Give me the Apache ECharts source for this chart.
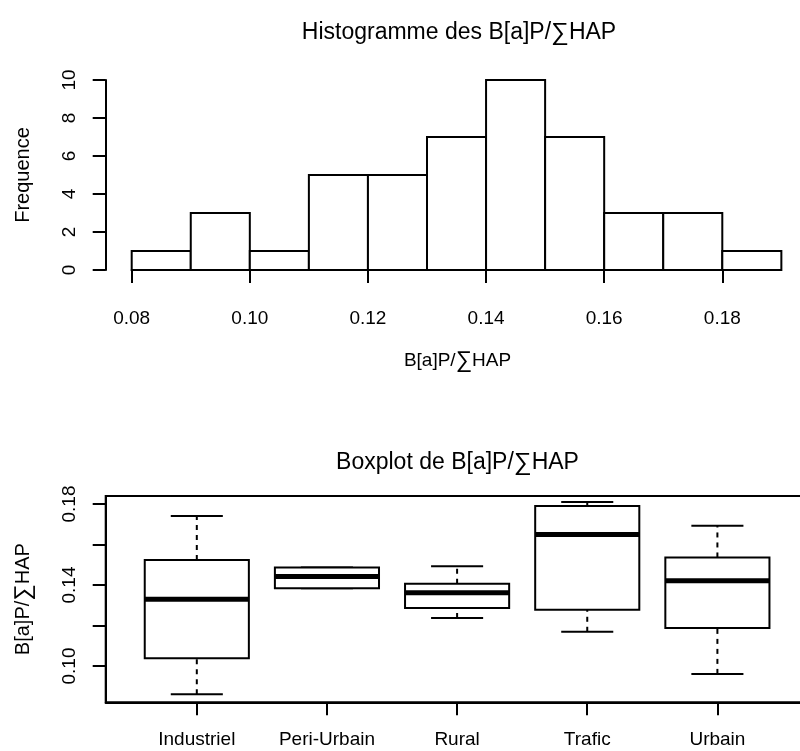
<!DOCTYPE html>
<html><head><meta charset="utf-8">
<script src="https://cdn.jsdelivr.net/npm/echarts@6/dist/echarts.min.js"></script>
<style>html,body{margin:0;padding:0;background:#fff}#c{width:800px;height:751px}</style>
</head><body><div id="c"></div>
<script>
// ---- data ----
const binEdges = [0.08,0.09,0.10,0.11,0.12,0.13,0.14,0.15,0.16,0.17,0.18,0.19];
const binCounts = [1,3,1,5,5,7,10,7,3,3,1];
const categories = ['Industriel','Peri-Urbain','Rural','Trafic','Urbain'];
const whiskerLow  = [0.0861,0.1384,0.1237,0.1169,0.0961];
const q1          = [0.1038,0.1384,0.1286,0.1278,0.1188];
const median      = [0.1330,0.1442,0.1362,0.1649,0.1421];
const q3          = [0.1524,0.1486,0.1406,0.1790,0.1536];
const whiskerHigh = [0.1741,0.1486,0.1493,0.1810,0.1692];
const boxYTicks = [0.10,0.12,0.14,0.16,0.18];
const boxYLabels = [0.10,0.14,0.18];
const catTicks = [1,2,3,4,5];

const FONT = "'Liberation Sans', Arial, Helvetica, sans-serif";
const LW = 2;
const blackLine = {show:true, lineStyle:{color:'#000', width:LW}};
const sigmaRich = {s:{fontSize:25, fontFamily:FONT, color:'#000'}};
const sigmaRichS = {s:{fontSize:23, fontFamily:FONT, color:'#000'}};

const chart = echarts.init(document.getElementById('c'), null, {renderer:'canvas'});
chart.setOption({
  backgroundColor:'#fff',
  animation:false,
  grid:[
    {left:131.7, right:77.7, top:80, bottom:481, outerBoundsMode:'none'},
    {left:105.7, right:-8.5, top:496, bottom:48.7, show:true, borderColor:'#000', borderWidth:LW, backgroundColor:'transparent', outerBoundsMode:'none'}
  ],
  xAxis:[
    {type:'value', gridIndex:0, min:0.08, max:0.18, interval:0.02, offset:8,
     axisLine:blackLine, axisTick:{show:true, length:13, lineStyle:{color:'#000', width:LW}},
     splitLine:{show:false},
     axisLabel:{margin:31, fontSize:19, fontFamily:FONT, color:'#000', formatter:v=>v.toFixed(2)}},
    {type:'value', gridIndex:1, min:0.3, max:5.7,
     axisLine:blackLine, axisTick:{show:true, length:13, customValues:catTicks, lineStyle:{color:'#000', width:LW}},
     splitLine:{show:false},
     axisLabel:{margin:28, fontSize:19, fontFamily:FONT, color:'#000', customValues:catTicks, formatter:v=>categories[Math.round(v)-1]}}
  ],
  yAxis:[
    {type:'value', gridIndex:0, min:0, max:10, interval:2, offset:26,
     name:'Frequence', nameLocation:'middle', nameGap:72,
     nameTextStyle:{fontSize:20, fontFamily:FONT, color:'#000'},
     axisLine:blackLine, axisTick:{show:true, length:13, lineStyle:{color:'#000', width:LW}},
     splitLine:{show:false},
     axisLabel:{rotate:90, margin:26, fontSize:19, fontFamily:FONT, color:'#000'}},
    {type:'value', gridIndex:1, min:0.08207, max:0.18395,
     name:'B[a]P/{s|∑}HAP', nameLocation:'middle', nameGap:71,
     nameTextStyle:{fontSize:20, fontFamily:FONT, color:'#000', rich:sigmaRichS},
     axisLine:blackLine, axisTick:{show:true, length:13, customValues:boxYTicks, lineStyle:{color:'#000', width:LW}},
     splitLine:{show:false},
     axisLabel:{rotate:90, margin:26, fontSize:19, fontFamily:FONT, color:'#000', customValues:boxYLabels, formatter:v=>v.toFixed(2)}}
  ],
  graphic:[
    {type:'text', x:459, y:33, style:{text:'Histogramme des B[a]P/{s|∑}HAP', font:'23px '+FONT, fill:'#000', textAlign:'center', textVerticalAlign:'middle', rich:sigmaRich}},
    {type:'text', x:457.5, y:361, style:{text:'B[a]P/{s|∑}HAP', font:'19px '+FONT, fill:'#000', textAlign:'center', textVerticalAlign:'middle', rich:sigmaRichS}},
    {type:'text', x:457.5, y:463, style:{text:'Boxplot de B[a]P/{s|∑}HAP', font:'23px '+FONT, fill:'#000', textAlign:'center', textVerticalAlign:'middle', rich:sigmaRich}}
  ],
  series:[
    {type:'custom', xAxisIndex:0, yAxisIndex:0, clip:false,
     data: binCounts.map((c,i)=>[binEdges[i], binEdges[i+1], c]),
     encode:{x:[0,1], y:2},
     renderItem:function(params, api){
       const p0 = api.coord([api.value(0), api.value(2)]);
       const p1 = api.coord([api.value(1), 0]);
       return {type:'rect', shape:{x:p0[0], y:p0[1], width:p1[0]-p0[0], height:p1[1]-p0[1]},
               style:{fill:'#fff', stroke:'#000', lineWidth:LW}};
     }},
    {type:'custom', xAxisIndex:1, yAxisIndex:1, clip:false,
     data: categories.map((c,i)=>[i+1, whiskerLow[i], q1[i], median[i], q3[i], whiskerHigh[i]]),
     encode:{x:0, y:[1,2,3,4,5]},
     renderItem:function(params, api){
       const x = api.value(0);
       const lo = api.value(1), a = api.value(2), m = api.value(3), b = api.value(4), hi = api.value(5);
       const c = (xx,yy)=>api.coord([xx,yy]);
       const line = (p,q,extra)=>({type:'line', shape:{x1:p[0],y1:p[1],x2:q[0],y2:q[1]},
                   style:Object.assign({stroke:'#000', lineWidth:LW}, extra||{})});
       const tl = c(x-0.4, b), br = c(x+0.4, a);
       return {type:'group', children:[
         line(c(x,b), c(x,hi), {lineDash:[5,5]}),
         line(c(x,lo), c(x,a), {lineDash:[5,5]}),
         line(c(x-0.2,hi), c(x+0.2,hi)),
         line(c(x-0.2,lo), c(x+0.2,lo)),
         {type:'rect', shape:{x:tl[0], y:tl[1], width:br[0]-tl[0], height:br[1]-tl[1]},
          style:{fill:'#fff', stroke:'#000', lineWidth:LW}},
         line(c(x-0.4,m), c(x+0.4,m), {lineWidth:5})
       ]};
     }}
  ]
});
</script></body></html>
